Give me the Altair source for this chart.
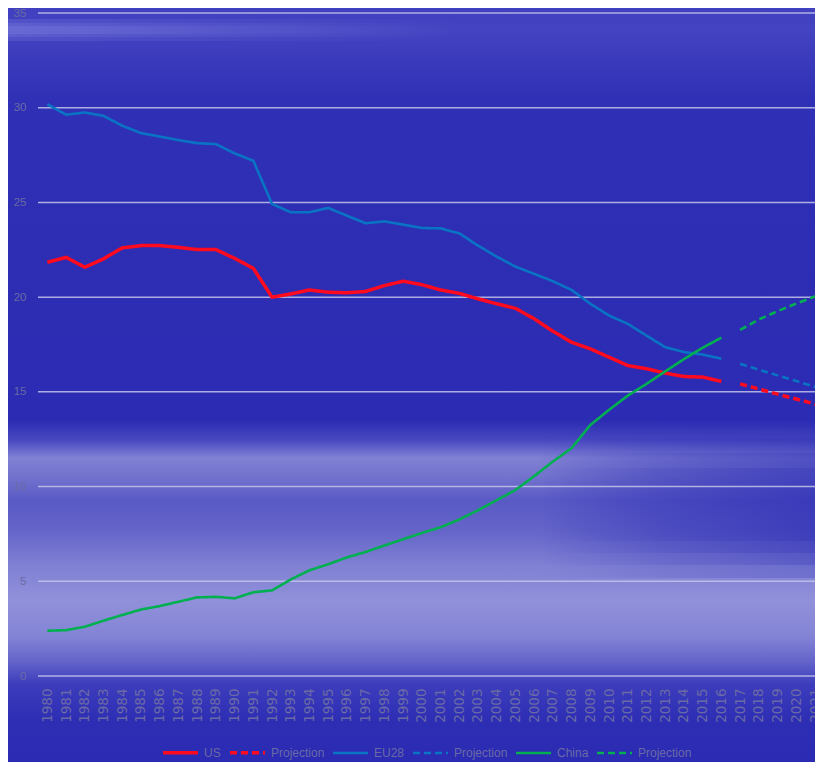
import altair as alt
import pandas as pd

# ---------------- data ----------------
years = list(range(1980, 2017))
us = [21.84, 22.10, 21.58, 22.02, 22.60, 22.72, 22.72, 22.63, 22.51, 22.51,
      22.05, 21.52, 20.00, 20.17, 20.38, 20.26, 20.23, 20.30, 20.61, 20.84,
      20.66, 20.38, 20.20, 19.91, 19.65, 19.41, 18.86, 18.20, 17.62, 17.27,
      16.83, 16.39, 16.22, 15.99, 15.81, 15.78, 15.55]
eu28 = [30.19, 29.63, 29.75, 29.57, 29.05, 28.66, 28.48, 28.29, 28.13, 28.08,
        27.59, 27.20, 24.92, 24.48, 24.48, 24.71, 24.30, 23.90, 24.00, 23.83,
        23.65, 23.63, 23.37, 22.72, 22.14, 21.61, 21.23, 20.84, 20.38, 19.65,
        19.03, 18.59, 17.97, 17.36, 17.10, 16.97, 16.75]
china = [2.39, 2.42, 2.60, 2.92, 3.22, 3.51, 3.69, 3.92, 4.15, 4.18,
         4.10, 4.42, 4.52, 5.10, 5.58, 5.90, 6.26, 6.55, 6.89, 7.22,
         7.55, 7.85, 8.26, 8.75, 9.28, 9.82, 10.55, 11.32, 12.03, 13.25,
         14.05, 14.80, 15.42, 16.08, 16.73, 17.33, 17.86]

proj_years = list(range(2017, 2023))
us_proj = [15.42, 15.15, 14.88, 14.62, 14.36, 14.10]
eu28_proj = [16.48, 16.17, 15.87, 15.57, 15.27, 14.97]
china_proj = [18.27, 18.82, 19.26, 19.66, 20.04, 20.40]

y_ticks = [0, 5, 10, 15, 20, 25, 30, 35]
x_ticks = list(range(1980, 2022))

series_order = ["US", "US Projection", "EU28", "EU28 Projection",
                "China", "China Projection"]
series_colors = ["#ff0a1e", "#ff0a1e", "#0a74c4", "#0a74c4", "#00b050", "#00b050"]
series_dashes = [[1, 0], [7, 4], [1, 0], [7, 4], [1, 0], [7, 4]]
series_widths = [3.5, 3.5, 2.6, 2.6, 2.6, 2.6]

rows = []
for name, xs, vs in [("US", years, us), ("US Projection", proj_years, us_proj),
                     ("EU28", years, eu28), ("EU28 Projection", proj_years, eu28_proj),
                     ("China", years, china), ("China Projection", proj_years, china_proj)]:
    for xv, vv in zip(xs, vs):
        rows.append({"year": xv, "value": vv, "series": name})
df = pd.DataFrame(rows)

# ---------------- layout ----------------
W, H = 777, 663
FONT = "Liberation Sans, Arial, sans-serif"
LABEL_GRAY = "#6a6aa4"

xscale = alt.Scale(domain=[1979.5, 2021.0], nice=False, zero=False)
yscale = alt.Scale(domain=[0, 35], nice=False, zero=True)

x_axis = alt.Axis(values=x_ticks, format="d", labelAngle=-90, title=None,
                  grid=False, domain=False, ticks=False, labelPadding=12,
                  labelFont="DejaVu Sans, sans-serif", labelFontSize=13.5,
                  labelColor=LABEL_GRAY, labelOverlap=False, labelFlush=False,
                  zindex=1)
y_axis = alt.Axis(values=y_ticks, title=None, grid=False, domain=False,
                  ticks=False, labelPadding=12, labelFont=FONT,
                  labelFontSize=11.5, labelColor=LABEL_GRAY, zindex=1)

one = pd.DataFrame({"a": [0]})

base_grad = alt.Gradient(
    gradient="linear", x1=0, y1=0, x2=0, y2=1,
    stops=[
        alt.GradientStop(offset=0.0, color="#4040c0"),
        alt.GradientStop(offset=0.03, color="#4444c2"),
        alt.GradientStop(offset=0.06, color="#3c3cbd"),
        alt.GradientStop(offset=0.123, color="#3030b6"),
        alt.GradientStop(offset=0.552, color="#2b2bb3"),
        alt.GradientStop(offset=0.579, color="#4848c0"),
        alt.GradientStop(offset=0.603, color="#8080d4"),
        alt.GradientStop(offset=0.626, color="#7474ce"),
        alt.GradientStop(offset=0.66, color="#5a5ac6"),
        alt.GradientStop(offset=0.70, color="#6464c9"),
        alt.GradientStop(offset=0.747, color="#8080d4"),
        alt.GradientStop(offset=0.794, color="#9090da"),
        alt.GradientStop(offset=0.841, color="#8484d6"),
        alt.GradientStop(offset=0.874, color="#6666cb"),
        alt.GradientStop(offset=0.907, color="#3c3cbc"),
        alt.GradientStop(offset=0.954, color="#2e2eb5"),
        alt.GradientStop(offset=1.0, color="#2b2bb3"),
    ])


def hgrad(rgb, a, fade_from, fade_to):
    # horizontal fade: transparent on one side, colour on the other
    return alt.Gradient(
        gradient="linear", x1=0, y1=0, x2=1, y2=0,
        stops=[alt.GradientStop(offset=0, color=f"rgba({rgb},{fade_from * a})"),
               alt.GradientStop(offset=0.45, color=f"rgba({rgb},{round(0.5 * (fade_from + fade_to) * a, 3)})"),
               alt.GradientStop(offset=1, color=f"rgba({rgb},{fade_to * a})")])


bg = alt.Chart(one).mark_rect(fill=base_grad).encode(
    x=alt.value(-30), x2=alt.value(W), y=alt.value(-5), y2=alt.value(741))

decor = []
# darker band on the right of the lower cloud area (stacked for a soft edge)
for y0, y1 in [(410, 565), (425, 552), (440, 540), (455, 528)]:
    decor.append(alt.Chart(one).mark_rect(fill=hgrad("43,43,180", 0.24, 0, 1)).encode(
        x=alt.value(500), x2=alt.value(W), y=alt.value(y0), y2=alt.value(y1)))
# lighter streak at the top left
for y0, y1 in [(6, 28), (10, 24), (13, 21)]:
    decor.append(alt.Chart(one).mark_rect(fill=hgrad("150,150,235", 0.18, 1, 0)).encode(
        x=alt.value(-30), x2=alt.value(420), y=alt.value(y0), y2=alt.value(y1)))

grid = alt.Chart(pd.DataFrame({"value": y_ticks})).mark_rule(
    color="#c4c4ea", strokeWidth=1.5, opacity=0.85).encode(
    y=alt.Y("value:Q", scale=yscale, axis=y_axis),
    x=alt.value(0), x2=alt.value(W))

legend = alt.Legend(
    title=None, orient="none", legendX=123, legendY=720, direction="horizontal",
    columns=6, symbolType="stroke", symbolSize=1225, symbolStrokeWidth=3.5,
    labelFont=FONT, labelFontSize=12, labelColor=LABEL_GRAY, labelOffset=4,
    columnPadding=2, padding=0,
    labelExpr="indexof(datum.label, 'Projection') >= 0 ? 'Projection' : datum.label")

lines = alt.Chart(df).mark_line(clip=True).encode(
    x=alt.X("year:Q", scale=xscale, axis=x_axis),
    y=alt.Y("value:Q", scale=yscale, axis=y_axis),
    color=alt.Color("series:N", scale=alt.Scale(domain=series_order, range=series_colors),
                    legend=legend),
    strokeDash=alt.StrokeDash("series:N",
                              scale=alt.Scale(domain=series_order, range=series_dashes),
                              legend=legend),
    strokeWidth=alt.StrokeWidth("series:N",
                                scale=alt.Scale(type="ordinal", domain=series_order,
                                                range=series_widths),
                                legend=legend),
)

chart = alt.layer(bg, *decor, grid, lines).properties(
    width=W, height=H,
    autosize=alt.AutoSizeParams(type="none"),
    padding={"left": 30, "top": 5, "right": 0, "bottom": 86},
).configure(background="#2b2bb3").configure_view(stroke=None)

chart.save("out.html", embed_options={"renderer": "svg", "actions": False})
